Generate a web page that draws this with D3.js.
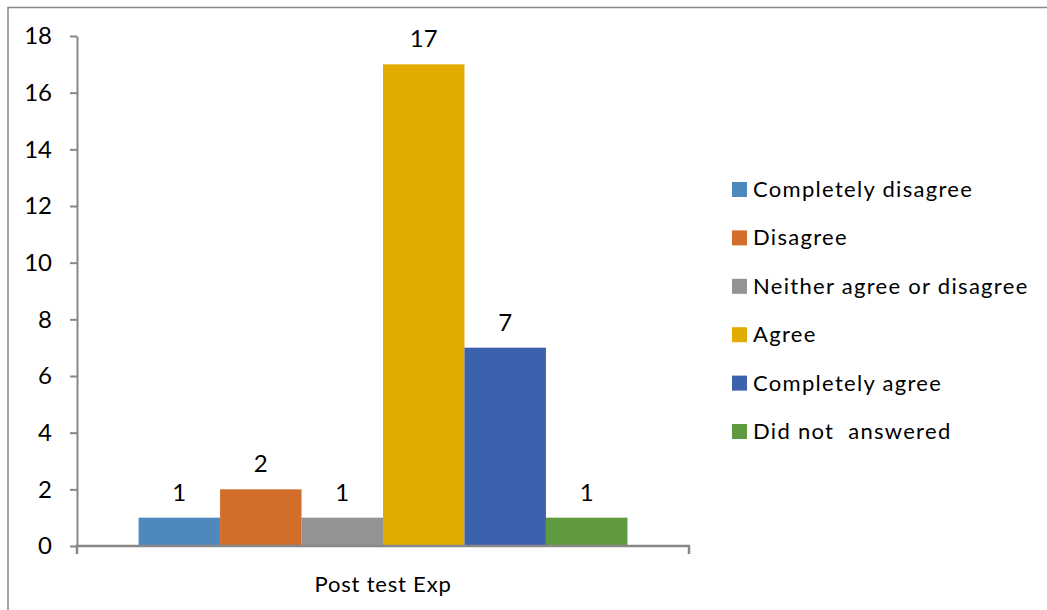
<!DOCTYPE html>
<html>
<head>
<meta charset="utf-8">
<script src="https://cdn.jsdelivr.net/npm/d3@7"></script>
<style>
  html, body { margin: 0; padding: 0; background: #fff; }
  svg { display: block; font-family: Lato, "Open Sans", sans-serif; }
</style>
</head>
<body>
<svg id="chart" width="1047" height="610"></svg>
<script>
// Survey responses for the single "Post test Exp" group
const category = ["Post test Exp"];
const responses = ["Completely disagree", "Disagree", "Neither agree or disagree", "Agree", "Completely agree", "Did not  answered"];
const counts = [1, 2, 1, 17, 7, 1];
const colors = ["#4F88BD", "#D36D2B", "#939393", "#E2AB00", "#3C62AD", "#609A3E"];
const yTicks = [0, 2, 4, 6, 8, 10, 12, 14, 16, 18];

const svg = d3.select("#chart");
const axisColor = "#888888";

// outer frame (top and left edges visible)
svg.append("path")
  .attr("d", "M8,610 V7.5 H1047")
  .attr("fill", "none")
  .attr("stroke", axisColor)
  .attr("stroke-width", 1.5);

const plot = { left: 77, right: 689, top: 36, bottom: 546 };

const x0 = d3.scaleBand().domain(category).range([plot.left, plot.right]).paddingInner(0).paddingOuter(0.126);
const x1 = d3.scaleBand().domain(responses).range([0, x0.bandwidth()]).padding(0);
const y = d3.scaleLinear().domain([0, 18]).range([plot.bottom, plot.top]);

// y axis
const yAxis = svg.append("g")
  .attr("transform", `translate(${plot.left},0)`)
  .call(d3.axisLeft(y).tickValues(yTicks).tickSize(7).tickSizeOuter(0).tickPadding(18));
yAxis.select(".domain").attr("stroke", axisColor).attr("stroke-width", 2);
yAxis.selectAll(".tick line").attr("stroke", axisColor).attr("stroke-width", 2);
yAxis.selectAll(".tick text")
  .attr("fill", "#000")
  .style("font-size", "24px")
  .style("font-family", "Lato, sans-serif");

// bars
const group = svg.append("g").attr("transform", `translate(${x0(category[0])},0)`);
group.selectAll("rect")
  .data(counts)
  .join("rect")
  .attr("x", (d, i) => x1(responses[i]))
  .attr("width", x1.bandwidth())
  .attr("y", d => y(d))
  .attr("height", d => y(0) - y(d))
  .attr("fill", (d, i) => colors[i]);

// value labels
group.selectAll("text.value")
  .data(counts)
  .join("text")
  .attr("class", "value")
  .attr("x", (d, i) => x1(responses[i]) + x1.bandwidth() / 2)
  .attr("y", d => y(d) - 17)
  .attr("text-anchor", "middle")
  .style("font-size", "24px")
  .attr("fill", "#000")
  .text(d => d);

// x axis
const xAxis = svg.append("g")
  .attr("transform", `translate(0,${plot.bottom})`)
  .call(d3.axisBottom(x0).tickSize(0).tickPadding(30));
xAxis.select(".domain").remove();
xAxis.append("path")
  .attr("d", `M${plot.left},8 V0 H${plot.right} V8`)
  .attr("fill", "none")
  .attr("stroke", axisColor)
  .attr("stroke-width", 2.5);
xAxis.selectAll(".tick text")
  .attr("fill", "#000")
  .style("font-size", "22px")
  .style("letter-spacing", "0.8px")
  .style("font-family", "Lato, sans-serif");

// legend
const legend = svg.append("g").attr("transform", "translate(732,182)");
const rows = legend.selectAll("g")
  .data(responses)
  .join("g")
  .attr("transform", (d, i) => `translate(0,${i * 48.4})`);
rows.append("rect")
  .attr("width", 15)
  .attr("height", 15)
  .attr("fill", (d, i) => colors[i]);
rows.append("text")
  .attr("x", 21)
  .attr("y", 15)
  .style("font-size", "22px")
  .style("letter-spacing", "1.3px")
  .attr("fill", "#000")
  .style("white-space", "pre")
  .text(d => d);
</script>
</body>
</html>
